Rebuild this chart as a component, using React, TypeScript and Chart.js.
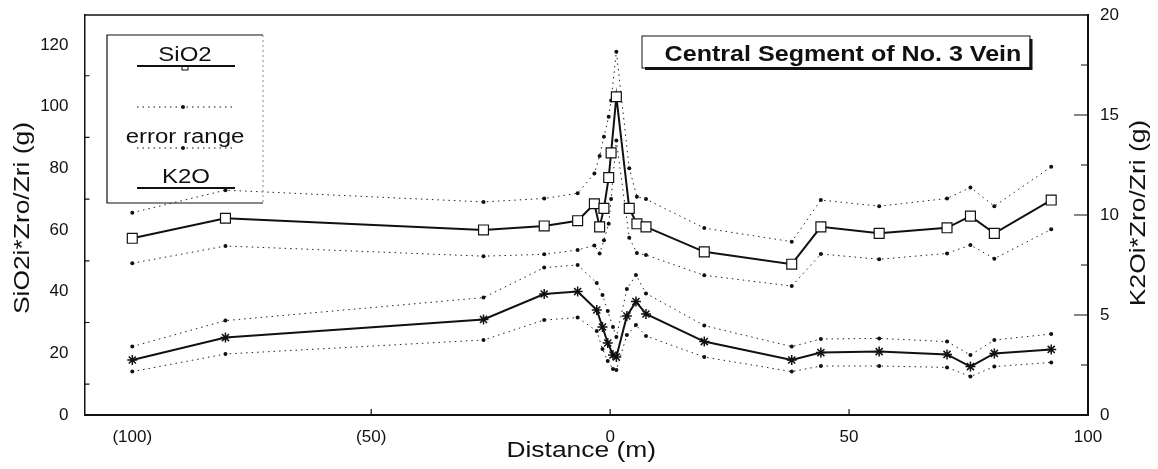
import React, { useEffect, useRef } from 'react';
import { Chart, registerables } from 'chart.js';

Chart.register(...registerables);

// ---- Data ----
const X_TICKS = [-100, -50, 0, 50, 100];
const Y_LEFT_TICKS = [0, 20, 40, 60, 80, 100, 120];
const Y_RIGHT_TICKS = [0, 5, 10, 15, 20];

const DIST_SIO2 = [-100, -80.5, -26.5, -13.8, -6.8, -3.3, -2.2, -1.3, -0.3, 0.2, 1.3, 4.0, 5.6, 7.5, 19.7, 38.0, 44.1, 56.3, 70.5, 75.4, 80.4, 92.3];
const SIO2 = [57.3, 63.8, 60.0, 61.3, 63.0, 68.5, 61.0, 67.0, 77.0, 85.0, 103.2, 67.0, 62.0, 61.0, 52.9, 48.9, 61.0, 58.9, 60.7, 64.5, 58.9, 69.7];
const SIO2_HI = [65.6, 72.9, 69.1, 70.2, 71.9, 78.3, 84.0, 90.2, 96.7, 102.0, 117.8, 80.0, 70.8, 70.0, 60.6, 56.2, 69.7, 67.7, 70.2, 73.8, 67.7, 80.5];
const SIO2_LO = [49.2, 54.8, 51.5, 52.1, 53.5, 55.0, 52.4, 56.7, 62.0, 70.0, 89.0, 57.5, 52.5, 51.9, 45.3, 41.8, 52.2, 50.5, 52.4, 55.1, 50.7, 60.2];

const DIST_K2O = [-100, -80.5, -26.5, -13.8, -6.8, -2.8, -1.6, -0.5, 0.6, 1.3, 3.5, 5.4, 7.5, 19.7, 38.0, 44.1, 56.3, 70.5, 75.4, 80.4, 92.3];
const K2O = [2.75, 3.87, 4.78, 6.05, 6.17, 5.25, 4.4, 3.6, 3.0, 2.9, 4.95, 5.67, 5.05, 3.67, 2.75, 3.12, 3.17, 3.03, 2.42, 3.08, 3.28];
const K2O_HI = [3.42, 4.72, 5.87, 7.37, 7.5, 6.6, 6.0, 5.2, 4.4, 3.9, 6.3, 7.0, 6.08, 4.47, 3.42, 3.8, 3.83, 3.67, 3.0, 3.75, 4.05];
const K2O_LO = [2.17, 3.05, 3.75, 4.75, 4.87, 4.2, 3.3, 2.7, 2.3, 2.25, 4.0, 4.5, 3.95, 2.9, 2.17, 2.45, 2.45, 2.38, 1.92, 2.42, 2.63];

const TITLE = 'Central Segment of No. 3 Vein';
const X_TITLE = 'Distance (m)';
const Y_LEFT_TITLE = 'SiO2i*Zro/Zri (g)';
const Y_RIGHT_TITLE = 'K2Oi*Zro/Zri (g)';
const LEGEND_SIO2 = 'SiO2';
const LEGEND_ERR = 'error range';
const LEGEND_K2O = 'K2O';

const FONT = '"Liberation Sans", Arial, Helvetica, sans-serif';
const INK = '#111';

const pts = (xs: number[], ys: number[]) => xs.map((x, i) => ({ x, y: ys[i] }));

function sText(ctx: CanvasRenderingContext2D, text: string, x: number, y: number, font: string, sx: number, rot = 0, baseline: CanvasTextBaseline = 'alphabetic') {
  ctx.save();
  ctx.translate(x, y);
  if (rot) ctx.rotate(rot);
  ctx.scale(sx, 1);
  ctx.font = font;
  ctx.fillStyle = INK;
  ctx.textAlign = 'center';
  ctx.textBaseline = baseline;
  ctx.fillText(text, 0, 0);
  ctx.restore();
}

const decorPlugin = {
  id: 'decor',
  afterDraw(chart: any) {
    const ctx: CanvasRenderingContext2D = chart.ctx;
    const { left, right, top, bottom } = chart.chartArea;
    const xs = chart.scales.x;
    const yl = chart.scales.y;
    const yr = chart.scales.y1;
    ctx.save();
    ctx.strokeStyle = INK;
    ctx.fillStyle = INK;
    // top frame line
    ctx.lineWidth = 1.5;
    ctx.beginPath();
    ctx.moveTo(left, top);
    ctx.lineTo(right, top);
    ctx.stroke();
    // inward ticks
    ctx.lineWidth = 1.2;
    ctx.beginPath();
    [-50, 0, 50].forEach((v) => {
      const px = xs.getPixelForValue(v);
      ctx.moveTo(px, bottom);
      ctx.lineTo(px, bottom - 6);
    });
    [10, 30, 50, 70, 90, 110].forEach((v) => {
      const py = yl.getPixelForValue(v);
      ctx.moveTo(left, py);
      ctx.lineTo(left + 5, py);
    });
    [2.5, 5, 7.5, 10, 12.5, 15, 17.5].forEach((v) => {
      const py = yr.getPixelForValue(v);
      const len = v % 5 === 0 ? 14 : 7;
      ctx.moveTo(right, py);
      ctx.lineTo(right - len, py);
    });
    ctx.stroke();

    // axis titles
    sText(ctx, X_TITLE, (left + right) / 2 - 5, 457, `22px ${FONT}`, 1.2);
    sText(ctx, Y_LEFT_TITLE, 23, 218, `22px ${FONT}`, 1.2, -Math.PI / 2, 'middle');
    sText(ctx, Y_RIGHT_TITLE, 1139, 213, `22px ${FONT}`, 1.2, -Math.PI / 2, 'middle');

    // legend box
    const lx0 = 107, ly0 = 35, lx1 = 263, ly1 = 203;
    ctx.lineWidth = 1.2;
    ctx.strokeStyle = INK;
    ctx.beginPath();
    ctx.moveTo(lx1, ly0);
    ctx.lineTo(lx0, ly0);
    ctx.lineTo(lx0, ly1);
    ctx.lineTo(lx1, ly1);
    ctx.stroke();
    ctx.save();
    ctx.strokeStyle = '#888';
    ctx.lineWidth = 1;
    ctx.setLineDash([2, 3]);
    ctx.beginPath();
    ctx.moveTo(lx1, ly0);
    ctx.lineTo(lx1, ly1);
    ctx.stroke();
    ctx.restore();

    const cx = 185;
    sText(ctx, LEGEND_SIO2, cx, 61, `20px ${FONT}`, 1.2);
    ctx.lineWidth = 2;
    ctx.beginPath();
    ctx.moveTo(137, 66);
    ctx.lineTo(235, 66);
    ctx.stroke();
    ctx.lineWidth = 1;
    ctx.strokeRect(cx - 3, 66, 6, 4);

    const dotted = (y: number) => {
      ctx.save();
      ctx.lineWidth = 1;
      ctx.setLineDash([1.5, 4]);
      ctx.beginPath();
      ctx.moveTo(137, y);
      ctx.lineTo(235, y);
      ctx.stroke();
      ctx.restore();
      ctx.beginPath();
      ctx.arc(cx - 2, y, 2, 0, Math.PI * 2);
      ctx.fill();
    };
    dotted(107);
    sText(ctx, LEGEND_ERR, cx, 143, `20px ${FONT}`, 1.2);
    dotted(148);
    sText(ctx, LEGEND_K2O, cx + 1, 183, `20px ${FONT}`, 1.2);
    ctx.lineWidth = 2;
    ctx.beginPath();
    ctx.moveTo(137, 188);
    ctx.lineTo(235, 188);
    ctx.stroke();

    // title box
    const tx0 = 642, ty0 = 36, tx1 = 1030, ty1 = 68;
    ctx.fillStyle = '#fff';
    ctx.fillRect(tx0, ty0, tx1 - tx0, ty1 - ty0);
    ctx.strokeStyle = INK;
    ctx.lineWidth = 1;
    ctx.strokeRect(tx0, ty0, tx1 - tx0, ty1 - ty0);
    ctx.lineWidth = 3;
    ctx.beginPath();
    ctx.moveTo(tx0 + 3, ty1 + 0.5);
    ctx.lineTo(tx1 + 1, ty1 + 0.5);
    ctx.lineTo(tx1 + 1, ty0 + 3);
    ctx.stroke();
    sText(ctx, TITLE, 843, 61, `bold 22px ${FONT}`, 1.14);
    ctx.restore();
  },
};

const noVPad = (s: any) => { s.paddingTop = 0; s.paddingBottom = 0; };

export default function App() {
  const ref = useRef<HTMLCanvasElement | null>(null);
  useEffect(() => {
    if (!ref.current) return;
    const dottedDs = (label: string, data: any[], axis: string) => ({
      label,
      data,
      yAxisID: axis,
      borderColor: '#222',
      borderWidth: 1,
      borderDash: [1.5, 4],
      pointRadius: 2,
      pointStyle: 'circle',
      pointBackgroundColor: INK,
      pointBorderWidth: 0,
      tension: 0,
      fill: false,
    });
    const chart = new Chart(ref.current, {
      type: 'line',
      data: {
        datasets: [
          {
            label: 'SiO2',
            data: pts(DIST_SIO2, SIO2),
            yAxisID: 'y',
            borderColor: INK,
            borderWidth: 2,
            pointStyle: 'rect',
            pointRadius: 7,
            pointBackgroundColor: '#fff',
            pointBorderColor: INK,
            pointBorderWidth: 1.2,
            tension: 0,
          },
          {
            label: 'K2O',
            data: pts(DIST_K2O, K2O),
            yAxisID: 'y1',
            borderColor: INK,
            borderWidth: 2,
            pointStyle: 'star',
            pointRadius: 5,
            pointBorderColor: INK,
            pointBorderWidth: 1.5,
            tension: 0,
          },
          dottedDs('SiO2 upper', pts(DIST_SIO2, SIO2_HI), 'y'),
          dottedDs('SiO2 lower', pts(DIST_SIO2, SIO2_LO), 'y'),
          dottedDs('K2O upper', pts(DIST_K2O, K2O_HI), 'y1'),
          dottedDs('K2O lower', pts(DIST_K2O, K2O_LO), 'y1'),
        ] as any,
      },
      options: {
        animation: false,
        responsive: true,
        maintainAspectRatio: false,
        devicePixelRatio: 1,
        layout: { padding: { top: 15, left: 0, right: 0, bottom: 0 } },
        plugins: { legend: { display: false }, tooltip: { enabled: false }, title: { display: false } },
        scales: {
          x: {
            type: 'linear',
            position: 'bottom',
            min: -110,
            max: 100,
            grid: { display: false, drawTicks: false },
            border: { display: true, color: INK, width: 2 },
            ticks: {
              autoSkip: false,
              maxRotation: 0,
              padding: 12,
              color: INK,
              font: { family: FONT, size: 17 },
              callback: (v: any) => (Number(v) < 0 ? `(${-Number(v)})` : `${v}`),
            },
            afterBuildTicks: (s: any) => { s.ticks = X_TICKS.map((value) => ({ value })); },
            afterFit: (s: any) => { s.height = 54; s.paddingLeft = 0; s.paddingRight = 0; },
          },
          y: {
            type: 'linear',
            position: 'left',
            min: 0,
            max: 129.7,
            grid: { display: false, drawTicks: false },
            border: { display: true, color: INK, width: 1.5 },
            ticks: { padding: 16, color: INK, font: { family: FONT, size: 17 } },
            afterBuildTicks: (s: any) => { s.ticks = Y_LEFT_TICKS.map((value) => ({ value })); },
            afterFit: (s: any) => { s.width = 84.5; noVPad(s); },
          },
          y1: {
            type: 'linear',
            position: 'right',
            min: 0,
            max: 20,
            grid: { display: false, drawTicks: false },
            border: { display: true, color: INK, width: 2 },
            ticks: { padding: 12, color: INK, font: { family: FONT, size: 17 } },
            afterBuildTicks: (s: any) => { s.ticks = Y_RIGHT_TICKS.map((value) => ({ value })); },
            afterFit: (s: any) => { s.width = 70; noVPad(s); },
          },
        },
      } as any,
      plugins: [decorPlugin],
    });
    return () => chart.destroy();
  }, []);
  return (
    <div style={{ position: 'absolute', left: 0, top: 0, width: 1158, height: 469, background: '#fff' }}>
      <canvas ref={ref} />
    </div>
  );
}
